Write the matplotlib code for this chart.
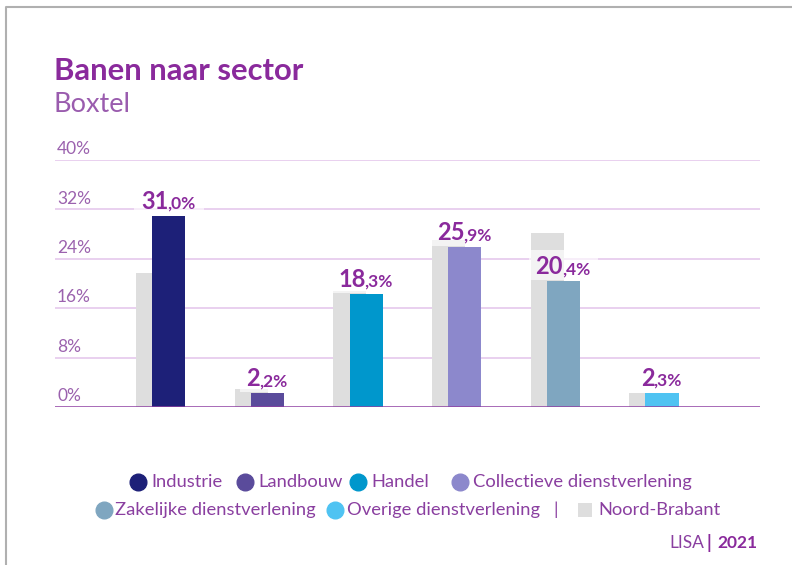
import matplotlib
matplotlib.use('Agg')
import matplotlib.pyplot as plt
from matplotlib.lines import Line2D
from matplotlib.patches import Rectangle

plt.rcParams['font.family'] = ['Lato', 'DejaVu Sans']

# banen per sector, Boxtel vs Noord-Brabant (%)
sectors = ['Industrie', 'Landbouw', 'Handel', 'Collectieve dienstverlening',
           'Zakelijke dienstverlening', 'Overige dienstverlening']
boxtel = [31.0, 2.2, 18.3, 25.9, 20.4, 2.3]
brabant = [21.7, 2.9, 18.8, 27.0, 28.2, 2.2]
colors = ['#1d2078', '#5a4b9b', '#0097cc', '#8c88cc', '#7fa6c0', '#4fc3f2']
grey = '#dedede'
yticks = [0, 8, 16, 24, 32, 40]

purple = '#8a2a9c'
tick_col = '#9b62ae'

W, H = 792, 565
fig = plt.figure(figsize=(W / 100, H / 100), dpi=100)

def fx(px):
    return px / W

def fy(py):
    return 1 - py / H

ax = fig.add_axes([fx(55), fy(407), fx(760) - fx(55), fy(160) - fy(407)])
ax.set_xlim(-1.156, 5.994)
ax.set_ylim(0, 40)
for s in ax.spines.values():
    s.set_visible(False)
ax.set_xticks([])
ax.set_yticks([])

for t in yticks:
    if t > 0:
        ax.axhline(t, color='#e5c8ec', lw=1.2, zorder=0)
    ax.text(0.003, t + 0.45, f'{t}%', transform=ax.get_yaxis_transform(),
            fontsize=12.5, color=tick_col, va='bottom', ha='left')
ax.axhline(0, color='#8e3fa2', lw=1.8, zorder=4)

bw = 0.335
x = list(range(len(sectors)))
ax.bar([i - 0.165 for i in x], brabant, width=bw, color=grey, zorder=2)
ax.bar(x, boxtel, width=bw, color=colors, zorder=3)

# waardelabels: groot geheel getal, kleinere decimalen
fig.canvas.draw()
r = fig.canvas.get_renderer()
inv = ax.transData.inverted()
for i, v in enumerate(boxtel):
    whole, dec = f'{v:.1f}'.split('.')
    t1 = ax.text(i, v, whole, fontsize=17, fontweight='bold', color=purple,
                 ha='left', va='baseline', zorder=6)
    t2 = ax.text(i, v, ',' + dec + '%', fontsize=12.5, fontweight='bold', color=purple,
                 ha='left', va='baseline', zorder=6)
    w1 = t1.get_window_extent(r).width
    w2 = t2.get_window_extent(r).width
    cx, cy = ax.transData.transform((i, v))
    x0 = cx - (w1 + w2) / 2
    ybase = cy + 7
    xa, ya = inv.transform((x0, ybase))
    xb, _ = inv.transform((x0 + w1 - 1, ybase))
    t1.set_position((xa, ya))
    t2.set_position((xb, ya))
    # half-transparante achtergrond achter het label
    x_l, y_l = inv.transform((x0 - 7, ybase - 6))
    x_r, y_r = inv.transform((x0 + w1 + w2 + 7, ybase + 24))
    ax.add_patch(Rectangle((x_l, y_l), x_r - x_l, y_r - y_l, facecolor='white',
                           alpha=0.65, edgecolor='none', zorder=5))

# titel
fig.text(fx(54), fy(80), 'Banen naar sector', fontsize=22.3, fontweight='bold',
         color=purple, ha='left', va='baseline')
fig.text(fx(54), fy(112), 'Boxtel', fontsize=19.5, color='#9a5cae',
         ha='left', va='baseline')

# legenda
leg_col = '#8a3fa0'
def legend_dot(px, py, c):
    fig.add_artist(Line2D([fx(px)], [fy(py)], marker='o', markersize=12,
                          color=c, transform=fig.transFigure))

def legend_txt(px, py, s, **kw):
    fig.text(fx(px), fy(py), s, fontsize=13.2, color=leg_col, ha='left', va='center', **kw)

row1 = 482
row2 = 510
legend_dot(138, row1, colors[0]); legend_txt(151, row1, sectors[0])
legend_dot(245, row1, colors[1]); legend_txt(258, row1, sectors[1])
legend_dot(358, row1, colors[2]); legend_txt(371, row1, sectors[2])
legend_dot(460, row1, colors[3]); legend_txt(473, row1, sectors[3])
legend_dot(104, row2, colors[4]); legend_txt(115, row2, sectors[4])
legend_dot(335, row2, colors[5]); legend_txt(347, row2, sectors[5])
legend_txt(553, row2, '|')
fig.add_artist(Rectangle((fx(578), fy(517)), fx(14), fy(503) - fy(517),
                         facecolor=grey, edgecolor='none', transform=fig.transFigure))
legend_txt(598, row2, 'Noord-Brabant')

# bron
fig.text(fx(757), fy(543), '2021', fontsize=12.5, fontweight='bold', color=purple,
         ha='right', va='center')
fig.text(fx(709), fy(543), '|', fontsize=13, fontweight='bold', color=purple,
         ha='center', va='center')
fig.text(fx(704), fy(543), 'LISA', fontsize=12.5, color=leg_col, ha='right', va='center')

# kader
fig.add_artist(Line2D([fx(6), fx(6), 1], [0, fy(7), fy(7)], color='#b0b0b0', lw=1.5,
                      transform=fig.transFigure))

fig.savefig('out.png', dpi=100, facecolor='white')
